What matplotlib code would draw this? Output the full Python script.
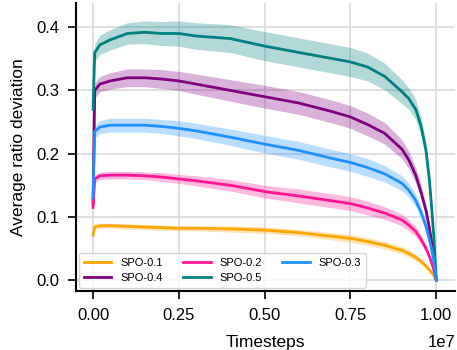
import matplotlib.pyplot as plt
import numpy as np

plt.rcParams['font.family'] = ['Liberation Sans', 'DejaVu Sans']

# timesteps in units of 1e7
steps = [0, 0.005, 0.02, 0.05, 0.1, 0.15, 0.2, 0.25, 0.3, 0.4, 0.5, 0.6,
         0.7, 0.75, 0.8, 0.85, 0.9, 0.92, 0.94, 0.955, 0.97, 0.98, 0.986, 0.992, 0.996, 1.0]

spo01 = [0.071, 0.084, 0.086, 0.086, 0.085, 0.084, 0.083, 0.082, 0.082, 0.081, 0.079, 0.075,
         0.069, 0.066, 0.061, 0.055, 0.047, 0.042, 0.036, 0.030, 0.022, 0.016, 0.012, 0.008, 0.004, 0.0]
spo02 = [0.115, 0.160, 0.165, 0.166, 0.166, 0.165, 0.163, 0.160, 0.157, 0.150, 0.140, 0.133,
         0.125, 0.121, 0.114, 0.106, 0.095, 0.087, 0.077, 0.065, 0.050, 0.037, 0.028, 0.018, 0.009, 0.0]
spo03 = [0.130, 0.235, 0.242, 0.245, 0.245, 0.245, 0.243, 0.240, 0.236, 0.226, 0.215, 0.205,
         0.192, 0.186, 0.178, 0.168, 0.153, 0.142, 0.126, 0.108, 0.085, 0.064, 0.050, 0.033, 0.017, 0.0]
spo04 = [0.120, 0.300, 0.310, 0.315, 0.320, 0.320, 0.318, 0.315, 0.310, 0.300, 0.290, 0.280,
         0.266, 0.258, 0.246, 0.232, 0.207, 0.190, 0.166, 0.140, 0.110, 0.082, 0.062, 0.040, 0.020, 0.0]
spo05 = [0.270, 0.360, 0.372, 0.380, 0.390, 0.392, 0.390, 0.390, 0.386, 0.382, 0.370, 0.360,
         0.350, 0.345, 0.337, 0.322, 0.298, 0.287, 0.270, 0.245, 0.205, 0.158, 0.118, 0.075, 0.038, 0.0]

# half widths of the shaded bands
spread01 = [0.002, 0.004, 0.004, 0.004, 0.004, 0.004, 0.004, 0.004, 0.004, 0.005, 0.005, 0.005,
            0.006, 0.006, 0.006, 0.006, 0.006, 0.006, 0.005, 0.005, 0.004, 0.003, 0.002, 0.002, 0.001, 0.0]
spread02 = [0.003, 0.006, 0.006, 0.006, 0.006, 0.006, 0.007, 0.007, 0.008, 0.009, 0.010, 0.011,
            0.011, 0.011, 0.011, 0.010, 0.009, 0.009, 0.008, 0.007, 0.006, 0.005, 0.004, 0.003, 0.002, 0.0]
spread03 = [0.004, 0.010, 0.010, 0.011, 0.011, 0.011, 0.011, 0.012, 0.012, 0.013, 0.014, 0.014,
            0.014, 0.014, 0.014, 0.013, 0.012, 0.011, 0.010, 0.009, 0.008, 0.006, 0.005, 0.004, 0.002, 0.0]
spread04 = [0.005, 0.012, 0.012, 0.013, 0.014, 0.014, 0.015, 0.015, 0.016, 0.017, 0.018, 0.018,
            0.018, 0.018, 0.018, 0.017, 0.015, 0.014, 0.012, 0.011, 0.009, 0.007, 0.006, 0.004, 0.002, 0.0]
spread05 = [0.006, 0.014, 0.015, 0.016, 0.017, 0.018, 0.019, 0.020, 0.021, 0.022, 0.023, 0.023,
            0.023, 0.023, 0.022, 0.021, 0.019, 0.017, 0.016, 0.014, 0.012, 0.010, 0.008, 0.005, 0.003, 0.0]

series = [
    ("SPO-0.1", spo01, spread01, "orange"),
    ("SPO-0.4", spo04, spread04, "purple"),
    ("SPO-0.2", spo02, spread02, "deeppink"),
    ("SPO-0.5", spo05, spread05, "teal"),
    ("SPO-0.3", spo03, spread03, "dodgerblue"),
]

fig = plt.figure(figsize=(4.57, 3.5), dpi=100)
ax = fig.add_axes([0.166, 0.169, 0.83, 0.822])

x = np.array(steps) * 1e7
for label, mean, spread, color in series:
    mean = np.array(mean)
    spread = np.array(spread)
    ax.fill_between(x, mean - spread, mean + spread, color=color, alpha=0.3, lw=0)
    ax.plot(x, mean, color=color, lw=2, label=label)

ax.set_xlim(-0.05e7, 1.055e7)
ax.set_ylim(-0.017, 0.438)
ax.set_yticks([0.0, 0.1, 0.2, 0.3, 0.4])
ax.set_xticks([0, 0.25e7, 0.5e7, 0.75e7, 1.0e7])
ax.grid(color="#d9d9d9", lw=1.2)
ax.set_axisbelow(True)
for side in ["top", "right"]:
    ax.spines[side].set_visible(False)
for side in ["left", "bottom"]:
    ax.spines[side].set_linewidth(1.5)
ax.tick_params(labelsize=12, width=1.2, length=6, pad=6)
ax.xaxis.get_offset_text().set_fontsize(12)
ax.xaxis.OFFSETTEXTPAD = 9
ax.set_xlabel("Timesteps", fontsize=12.5, labelpad=9)
ax.set_ylabel("Average ratio deviation", fontsize=12.5, labelpad=7)
ax.legend(loc="lower left", ncol=3, fontsize=8, handlelength=2.5,
          columnspacing=1.8, borderaxespad=0.3)

fig.savefig("out.png", dpi=100)
